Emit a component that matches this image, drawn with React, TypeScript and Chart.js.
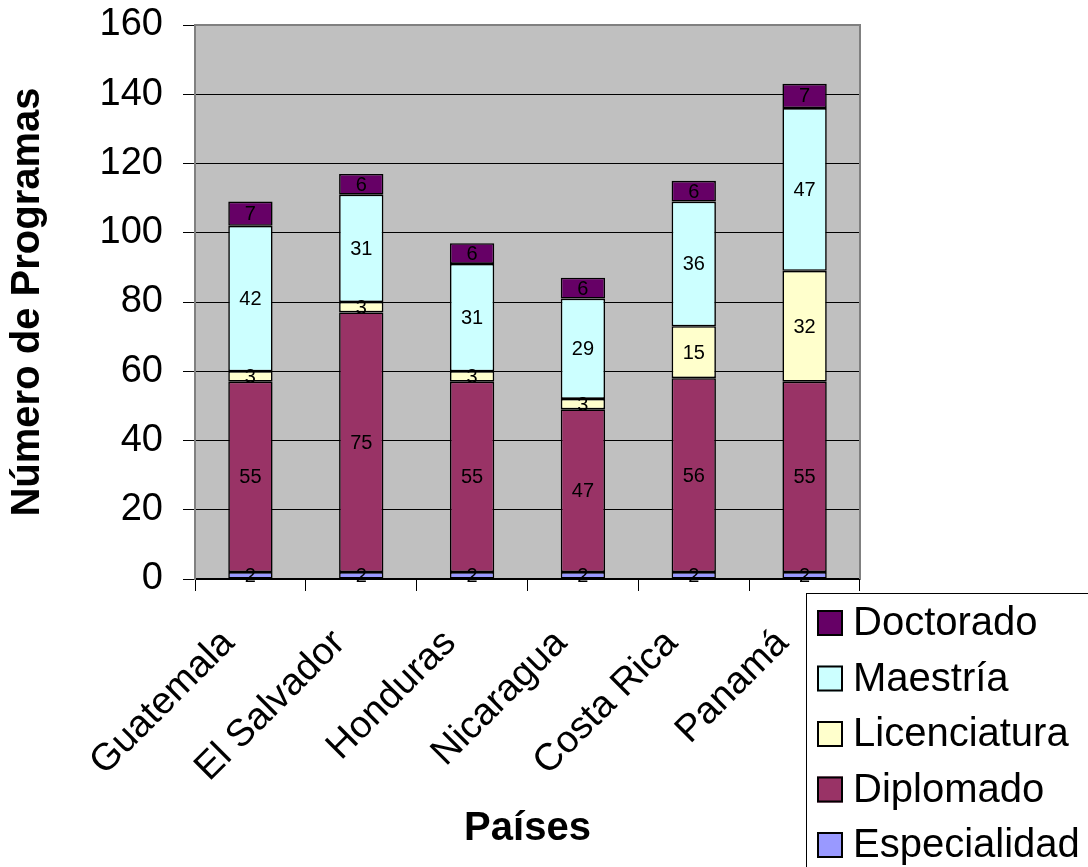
import React, { useEffect, useRef } from 'react';
import { Chart, registerables } from 'chart.js';

Chart.register(...registerables);

const categories = ['Guatemala', 'El Salvador', 'Honduras', 'Nicaragua', 'Costa Rica', 'Panamá'];
const especialidad = [2, 2, 2, 2, 2, 2];
const diplomado = [55, 75, 55, 47, 56, 55];
const licenciatura = [3, 3, 3, 3, 15, 32];
const maestria = [42, 31, 31, 29, 36, 47];
const doctorado = [7, 6, 6, 6, 6, 7];
const seriesNames = ['Especialidad', 'Diplomado', 'Licenciatura', 'Maestría', 'Doctorado'];
const seriesColors = ['#9999FF', '#993366', '#FFFFCC', '#CCFFFF', '#660066'];
const yMin = 0;
const yMax = 160;
const yStep = 20;

const FONT = '"Liberation Sans", Arial, Helvetica, sans-serif';

const bgPlugin = {
  id: 'plotBg',
  beforeDraw(chart: any) {
    const { ctx, chartArea } = chart;
    if (!chartArea) return;
    ctx.save();
    ctx.fillStyle = '#C0C0C0';
    ctx.fillRect(chartArea.left, chartArea.top, chartArea.right - chartArea.left, chartArea.bottom - chartArea.top);
    ctx.restore();
  },
  beforeDatasetsDraw(chart: any) {
    const { ctx, chartArea } = chart;
    ctx.save();
    ctx.strokeStyle = '#808080';
    ctx.lineWidth = 2;
    ctx.beginPath();
    ctx.moveTo(chartArea.left, chartArea.top);
    ctx.lineTo(chartArea.right, chartArea.top);
    ctx.lineTo(chartArea.right, chartArea.bottom);
    ctx.stroke();
    ctx.restore();
  },
};

const valueLabelPlugin = {
  id: 'valueLabels',
  afterDatasetsDraw(chart: any) {
    const { ctx } = chart;
    ctx.save();
    ctx.font = `20px ${FONT}`;
    ctx.fillStyle = '#000';
    ctx.textAlign = 'center';
    ctx.textBaseline = 'middle';
    chart.data.datasets.forEach((ds: any, di: number) => {
      const meta = chart.getDatasetMeta(di);
      meta.data.forEach((el: any, i: number) => {
        const v = ds.data[i];
        const cy = (el.y + el.base) / 2;
        ctx.fillText(String(v), el.x, cy + 1);
      });
    });
    ctx.restore();
  },
};

const legendPlugin = {
  id: 'boxLegend',
  afterDraw(chart: any) {
    const { ctx } = chart;
    const x0 = 806;
    const y0 = 593;
    ctx.save();
    ctx.fillStyle = '#FFFFFF';
    ctx.fillRect(x0, y0, 400, 400);
    ctx.strokeStyle = '#000';
    ctx.lineWidth = 1;
    ctx.strokeRect(x0 + 0.5, y0 + 0.5, 400, 400);
    const order = [...chart.data.datasets].reverse();
    ctx.font = `40px ${FONT}`;
    ctx.textAlign = 'left';
    ctx.textBaseline = 'middle';
    order.forEach((ds: any, k: number) => {
      const cy = 623 + k * 55.5;
      ctx.fillStyle = ds.backgroundColor;
      ctx.fillRect(817, cy - 13, 26, 26);
      ctx.strokeStyle = '#000';
      ctx.lineWidth = 2;
      ctx.strokeRect(818, cy - 12, 24, 24);
      ctx.fillStyle = '#000';
      ctx.fillText(ds.label, 853, cy + 1);
    });
    ctx.restore();
  },
};

export default function App() {
  const canvasRef = useRef<HTMLCanvasElement | null>(null);

  useEffect(() => {
    document.body.style.margin = '0';
    const canvas = canvasRef.current;
    if (!canvas) return;
    const seriesData = [especialidad, diplomado, licenciatura, maestria, doctorado];
    const chart = new Chart(canvas, {
      type: 'bar',
      data: {
        labels: categories,
        datasets: seriesData.map((d, i) => ({
          label: seriesNames[i],
          data: d,
          backgroundColor: seriesColors[i],
          borderColor: '#000000',
          borderWidth: 1.6,
          borderSkipped: false,
          categoryPercentage: 1,
          barPercentage: 0.4,
        })),
      },
      options: {
        animation: false,
        responsive: true,
        maintainAspectRatio: false,
        events: [],
        layout: { padding: { top: 25, right: 228, left: 0, bottom: 0 } },
        plugins: {
          legend: { display: false },
          tooltip: { enabled: false },
          title: { display: false },
        },
        scales: {
          x: {
            stacked: true,
            grid: {
              offset: true,
              drawOnChartArea: false,
              tickLength: 12,
              color: '#000',
              lineWidth: 1,
            },
            border: { color: '#000', width: 1.5 },
            ticks: {
              font: { size: 38, family: FONT },
              color: '#000',
              maxRotation: 45,
              minRotation: 45,
              autoSkip: false,
              padding: 30,
              labelOffset: -22,
            },
            title: {
              display: true,
              text: 'Países',
              color: '#000',
              font: { size: 40, weight: 'bold', family: FONT },
              padding: { top: 0, bottom: 14 },
            },
            afterFit: (s: any) => {
              s.height = 288;
              s.paddingLeft = 0;
              s.paddingRight = 0;
            },
          },
          y: {
            stacked: true,
            min: yMin,
            max: yMax,
            ticks: {
              stepSize: yStep,
              font: { size: 38, family: FONT },
              color: '#000',
              padding: 20,
            },
            grid: {
              color: '#000',
              lineWidth: 1,
              tickLength: 12,
            },
            border: { color: '#808080', width: 2 },
            title: {
              display: true,
              text: 'Número de Programas',
              color: '#000',
              font: { size: 40, weight: 'bold', family: FONT },
              padding: { top: 4, bottom: 0 },
            },
            afterFit: (s: any) => {
              s.width = 195;
              s.paddingTop = 0;
              s.paddingBottom = 0;
            },
          },
        },
      },
      plugins: [bgPlugin, valueLabelPlugin, legendPlugin],
    } as any);
    return () => chart.destroy();
  }, []);

  return (
    <div style={{ position: 'relative', width: 1088, height: 867 }}>
      <canvas ref={canvasRef} />
    </div>
  );
}
